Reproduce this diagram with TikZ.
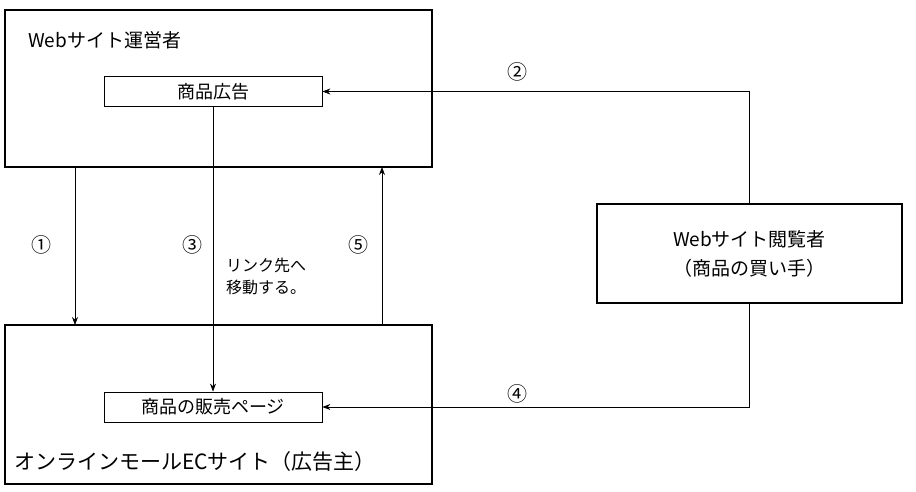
\documentclass[tikz,border=0pt]{standalone}
\usepackage{fontspec}
\setmainfont{Noto Sans CJK JP}
\usetikzlibrary{arrows.meta}
\begin{document}
\begin{tikzpicture}[x=1pt,y=-1pt,
  big/.style={draw,line width=2.6pt},
  small/.style={draw,line width=0.8pt,minimum width=218pt,minimum height=30pt,font=\fontsize{18}{20}\selectfont},
  lbl/.style={font=\fontsize{19}{22}\selectfont,anchor=west,inner sep=0pt},
  num/.style={font=\fontsize{20}{22}\selectfont,anchor=west,inner sep=0pt},
  arr/.style={-{Stealth[length=8pt,width=6pt]},line width=0.8pt}]
\useasboundingbox (0,0) rectangle (916,492);
\fill[white] (0,0) rectangle (916,492);
\node[big,minimum width=427pt,minimum height=157pt,inner sep=0pt] (top) at (218.5,88.5) {};
\node[big,minimum width=427pt,minimum height=159pt,inner sep=0pt] (bot) at (218.5,404.5) {};
\node[big,minimum width=305pt,minimum height=99pt,inner sep=0pt,align=center,font=\fontsize{19}{29}\selectfont] (view) at (749.5,253.5) {Webサイト閲覧者\\（商品の買い手）};
\node[small] (ad) at (213,91.5) {商品広告};
\node[small] (page) at (213,407) {商品の販売ページ};
\node[lbl] (t1) at (28,40) {Webサイト運営者};
\node[lbl,font=\fontsize{21}{22}\selectfont] (t2) at (14,462) {オンラインモールECサイト（広告主）};
\coordinate (a1s) at (75,167); \coordinate (a1e) at (75,325);
\coordinate (a5s) at (382,325); \coordinate (a5e) at (382,167);
\draw[arr] (a1s) -- (a1e);
\draw[arr] (ad.south) -- (page.north);
\draw[arr] (a5s) -- (a5e);
\draw[arr] (view.north) |- (ad.east);
\draw[arr] (view.south) |- (page.east);
\node[num] (n1) at (31,245) {①};
\node[num] (n3) at (182,245) {③};
\node[num] (n5) at (348,245) {⑤};
\node[num] (n2) at (507,72) {②};
\node[num] (n4) at (507,394) {④};
\node[lbl,align=left,font=\fontsize{16}{22}\selectfont] (link) at (226,276) {リンク先へ\\移動する。};
\end{tikzpicture}
\end{document}
